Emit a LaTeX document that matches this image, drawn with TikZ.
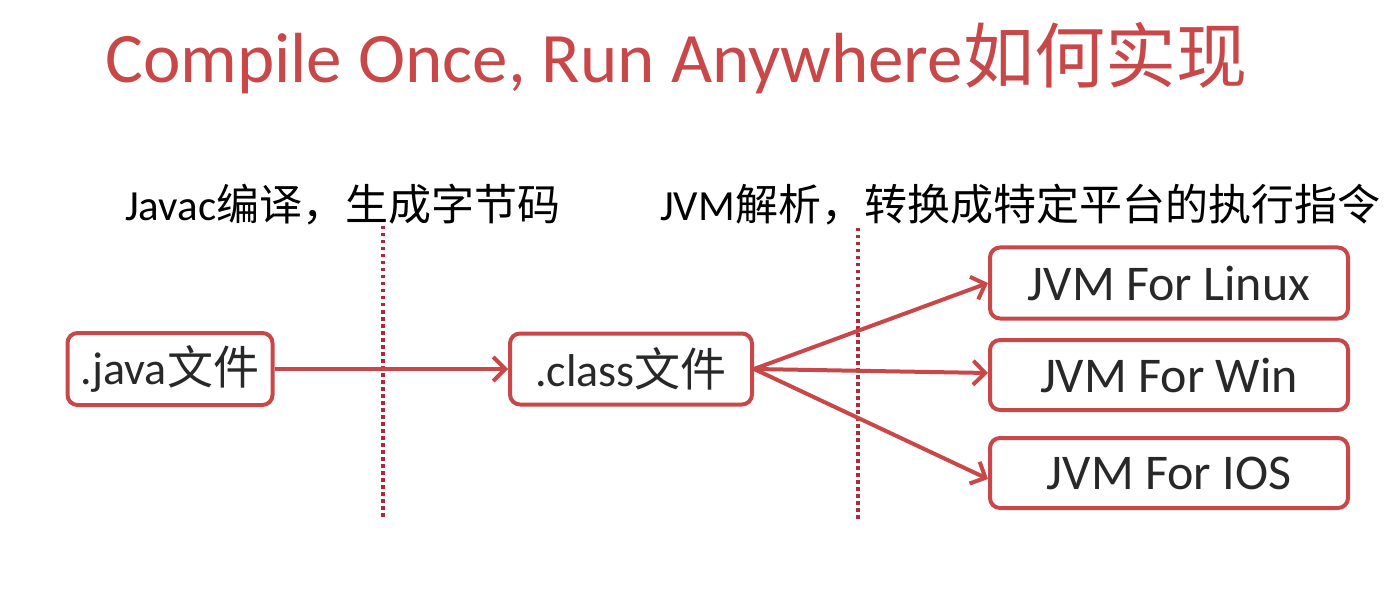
\documentclass[tikz,border=0pt]{standalone}
\usepackage{fontspec}
\setmainfont{Carlito}
\newfontfamily\cjk{Noto Sans CJK SC}
\usetikzlibrary{arrows.meta}
\definecolor{accent}{RGB}{200,72,74}
\definecolor{dotred}{RGB}{175,40,60}
\definecolor{txt}{RGB}{40,40,40}
\tikzset{
  filebox/.style={draw=accent, line width=4pt, rounded corners=10pt, fill=white, text=txt, inner sep=0pt, anchor=center},
  link/.style={draw=accent, line width=4pt, -{Straight Barb[length=12pt,width=24pt,line width=4pt]}},
  divider/.style={draw=dotred, line width=3.5pt, dash pattern=on 3.5pt off 3.5pt},
  caption/.style={text=black, inner sep=0pt, font=\fontsize{43}{50}\selectfont}
}
\begin{document}
\begin{tikzpicture}[x=1pt,y=-1pt]
\useasboundingbox (0,0) rectangle (1396,601);
\node[text=accent, inner sep=0pt, anchor=west, font=\fontsize{71}{82}\selectfont] (title) at (105,58) {Compile Once, Run Anywhere{\cjk 如何实现}};
\node[caption, anchor=west] (cap1) at (125,205) {Javac{\cjk 编译，生成字节码}};
\node[caption, anchor=west] (cap2) at (660,205) {JVM{\cjk 解析，转换成特定平台的执行指令}};
\coordinate (d1t) at (383,226); \coordinate (d1b) at (383,518);
\coordinate (d2t) at (858,228); \coordinate (d2b) at (858,520);
\draw[divider] (d1t) -- (d1b);
\draw[divider] (d2t) -- (d2b);
\node[filebox, minimum width=205pt, minimum height=72pt, font=\fontsize{46}{54}\selectfont] (java) at (170,369) {.java{\cjk 文件}};
\node[filebox, minimum width=242pt, minimum height=71pt, font=\fontsize{46}{54}\selectfont] (class) at (631,369) {.class{\cjk 文件}};
\node[filebox, minimum width=358pt, minimum height=71pt, font=\fontsize{50}{60}\selectfont] (linux) at (1169,283) {JVM For Linux};
\node[filebox, minimum width=358pt, minimum height=70pt, font=\fontsize{50}{60}\selectfont] (win) at (1169,375) {JVM For Win};
\node[filebox, minimum width=358pt, minimum height=70pt, font=\fontsize{50}{60}\selectfont] (ios) at (1169,473) {JVM For IOS};
\draw[link] (java.east) -- (class.west);
\draw[link] (class.east) -- (linux.west);
\draw[link] (class.east) -- ([yshift=2pt]win.west);
\draw[link] (class.east) -- ([yshift=-6pt]ios.west);
\end{tikzpicture}
\end{document}
